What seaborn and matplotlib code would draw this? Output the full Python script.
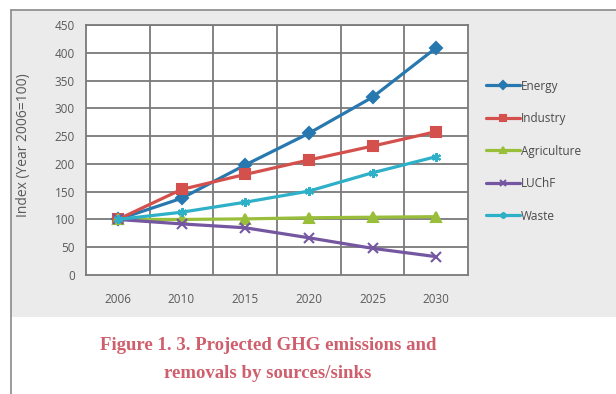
import numpy as np
import pandas as pd
import matplotlib
matplotlib.use("Agg")
import matplotlib.pyplot as plt
from matplotlib.patches import Rectangle
from matplotlib.lines import Line2D
import seaborn as sns

# ------------------------------------------------------------
# data (index, year 2006 = 100)
# ------------------------------------------------------------
years = ["2006", "2010", "2015", "2020", "2025", "2030"]
energy = [100, 138, 198, 255, 320, 409]
industry = [100, 154, 181, 207, 232, 258]
agriculture = [100, 100, 101, 103, 104, 105]
luchf = [100, 92, 85, 67, 48, 33]
waste = [100, 113, 131, 151, 184, 213]

sectors = ["Energy", "Industry", "Agriculture", "LUChF", "Waste"]
series = [energy, industry, agriculture, luchf, waste]

df = pd.DataFrame({
    "Year": years * len(sectors),
    "Sector": np.repeat(sectors, len(years)),
    "Index": np.concatenate(series),
})

colors = {"Energy": "#2878b0", "Industry": "#d4504c", "Agriculture": "#98be3a",
          "LUChF": "#7457a0", "Waste": "#2eb0c8"}
markers = {"Energy": "D", "Industry": "s", "Agriculture": "^",
           "LUChF": "x", "Waste": (6, 2, 0)}

# ------------------------------------------------------------
# figure
# ------------------------------------------------------------
sns.set_style("white")
fig = plt.figure(figsize=(6.16, 3.94), dpi=100, facecolor="white")

W, H = 616, 394
# grey chart box with border at left/top
fig.patches.append(Rectangle((11 / W, 1 - 317 / H), 1, (317 - 10) / H,
                             transform=fig.transFigure, facecolor="#ebebeb",
                             edgecolor="none", zorder=-5))
fig.lines.append(Line2D([11 / W, 11 / W], [0, 1 - 10 / H], transform=fig.transFigure,
                        color="#8a8a8a", lw=1.2, zorder=-4))
fig.lines.append(Line2D([11 / W, 1], [1 - 10 / H, 1 - 10 / H], transform=fig.transFigure,
                        color="#8a8a8a", lw=1.2, zorder=-4))

ax = fig.add_axes([86 / W, 1 - 275 / H, (468 - 86) / W, (275 - 25) / H])
ax.set_facecolor("white")

for name in sectors:
    sub = df[df["Sector"] == name]
    sns.lineplot(data=sub, x="Year", y="Index", ax=ax, color=colors[name],
                 marker=markers[name], markersize=6.5, markeredgewidth=1.5,
                 markeredgecolor=colors[name], linewidth=2.3, label=name,
                 sort=False, zorder=3)

ax.set_xlim(-0.5, len(years) - 0.5)
ax.set_ylim(0, 450)
ax.set_yticks(np.arange(0, 451, 50))
ax.set_xticks(np.arange(len(years)))
ax.set_xticklabels(years)
ax.set_xticks(np.arange(-0.5, len(years), 1), minor=True)

ax.grid(False)
for yv in np.arange(50, 451, 50):
    ax.axhline(yv, color="#7a7a7a", lw=1.3, zorder=1)
for xv in np.arange(0.5, len(years) - 0.5, 1):
    ax.axvline(xv, color="#7a7a7a", lw=1.3, zorder=1)

for side in ["top", "right", "left", "bottom"]:
    ax.spines[side].set_color("#7a7a7a")
    ax.spines[side].set_linewidth(1.3)

ax.tick_params(axis="x", which="major", length=0, pad=13, labelsize=8.5,
               labelcolor="#5a5a5a")
ax.tick_params(axis="x", which="minor", length=4, width=1.2, color="#7a7a7a",
               direction="out")
ax.tick_params(axis="y", length=4, width=1.2, color="#7a7a7a", direction="out",
               labelsize=8.5, labelcolor="#5a5a5a", pad=4)
for lab in ax.get_xticklabels() + ax.get_yticklabels():
    lab.set_family("Open Sans")

ax.set_xlabel("")
ax.set_ylabel("Index (Year 2006=100)", fontsize=10, color="#5a5a5a",
              family="Open Sans")
ax.yaxis.set_label_coords((31 - 86) / 382, 0.52)

leg = ax.legend(loc="upper left", bbox_to_anchor=(475 / W, 1 - 69 / H),
                bbox_transform=fig.transFigure, frameon=False,
                handlelength=2.9, handletextpad=0.1, labelspacing=1.65,
                markerscale=0.7,
                prop={"family": "Open Sans", "size": 8.5})
for t in leg.get_texts():
    t.set_color("#4a4a4a")

# caption
fig.text(268 / W, 1 - 345 / H, "Figure 1. 3. Projected GHG emissions and",
         ha="center", va="center", fontsize=13.5, fontweight="bold",
         family="Liberation Serif", color="#cf5f6c")
fig.text(268 / W, 1 - 373 / H, "removals by sources/sinks",
         ha="center", va="center", fontsize=13.5, fontweight="bold",
         family="Liberation Serif", color="#cf5f6c")

fig.savefig("out.png", dpi=100, facecolor="white")
